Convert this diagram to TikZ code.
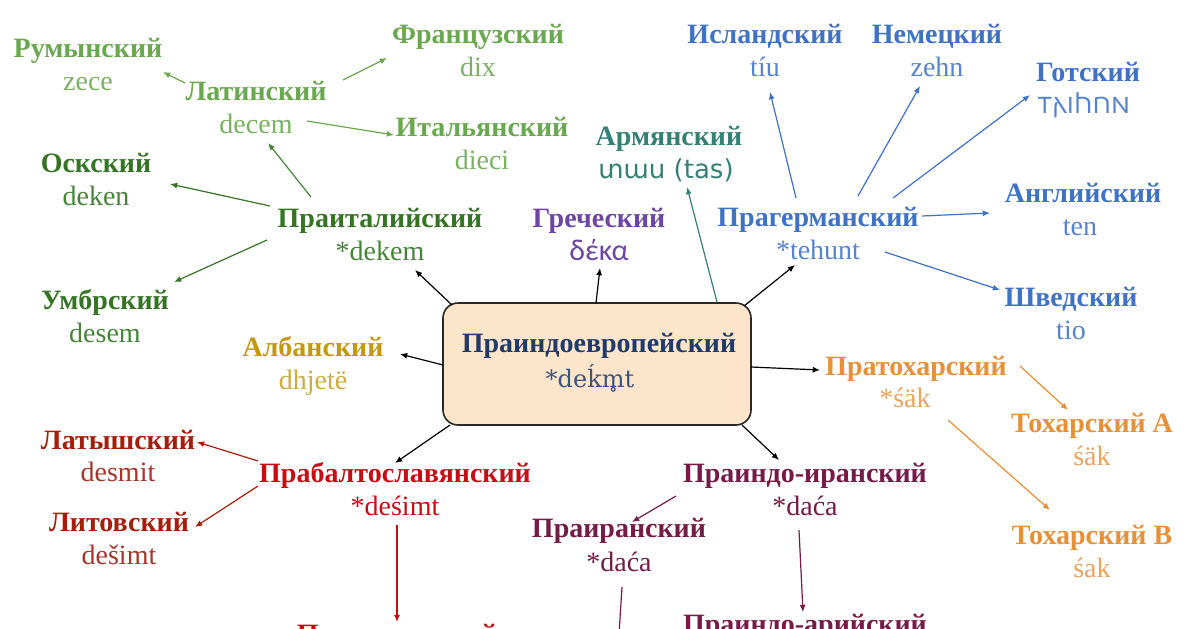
\documentclass[tikz,border=0pt]{standalone}
\usepackage{fontspec}
\setmainfont{Liberation Serif}
\newfontfamily\armfont{DejaVu Sans}
\newfontfamily\calfont{Carlito}
\newfontfamily\pieserif{DejaVu Serif}
\IfFontExistsTF{Noto Sans Gothic}{\newfontfamily\gothfont{Noto Sans Gothic}}{\newfontfamily\gothfont{DejaVu Sans}}
\usetikzlibrary{arrows.meta,calc}
\definecolor{romG}{RGB}{106,168,79}
\definecolor{romGw}{RGB}{122,178,98}
\definecolor{itaG}{RGB}{52,116,36}
\definecolor{itaGw}{RGB}{70,132,58}
\definecolor{gerB}{RGB}{64,114,196}
\definecolor{gerBw}{RGB}{86,132,204}
\definecolor{armT}{RGB}{52,128,116}
\definecolor{grkP}{RGB}{108,70,162}
\definecolor{pieB}{RGB}{32,58,106}
\definecolor{pieBw}{RGB}{62,82,122}
\definecolor{albY}{RGB}{196,152,12}
\definecolor{albYw}{RGB}{204,172,64}
\definecolor{bsR}{RGB}{200,12,20}
\definecolor{baltR}{RGB}{164,30,10}
\definecolor{baltRw}{RGB}{164,54,44}
\definecolor{iiM}{RGB}{116,27,71}
\definecolor{tocO}{RGB}{230,145,56}
\definecolor{tocOw}{RGB}{232,164,96}
\definecolor{boxfill}{RGB}{252,229,203}
\definecolor{boxline}{RGB}{40,40,40}
\tikzset{
  ttl/.style={anchor=base, inner sep=0pt, font=\fontsize{14}{17}\selectfont\bfseries},
  wrd/.style={anchor=base, inner sep=0pt, font=\fontsize{14}{17}\selectfont},
  arr/.style={-{Latex[length=3.6pt,width=3pt]}, line width=0.6pt},
  piebox/.style={draw=boxline, fill=boxfill, rounded corners=7.5pt, line width=0.8pt,
    minimum width=154pt, minimum height=61pt, inner sep=0pt},
}
\begin{document}
\begin{tikzpicture}[x=0.5pt,y=-0.5pt]
\clip (0,0) rectangle (1200,628);
\fill[white] (0,0) rectangle (1200,628);

% central box
\node[piebox] (pie) at (597,364) {};
\node[ttl, text=pieB] (piet) at (599,352) {Праиндоевропейский};
\node[anchor=base, inner sep=0pt, text=pieBw, font=\fontsize{12}{15}\pieserif] (piew) at (590,387) {*deḱm̥t};

% Italic branch
\node[ttl, text=romG] (rum) at (88,57) {Румынский};
\node[wrd, text=romGw] (rumw) at (88,90) {zece};
\node[ttl, text=romG] (lat) at (256,100) {Латинский};
\node[wrd, text=romGw] (latw) at (256,133) {decem};
\node[ttl, text=romG] (fr) at (478,43) {Французский};
\node[wrd, text=romGw] (frw) at (478,76) {dix};
\node[ttl, text=romG] (it) at (482,136) {Итальянский};
\node[wrd, text=romGw] (itw) at (482,169) {dieci};
\node[ttl, text=itaG] (osk) at (96,172) {Оскский};
\node[wrd, text=itaGw] (oskw) at (96,205) {deken};
\node[ttl, text=itaG] (prit) at (380,227) {Праиталийский};
\node[wrd, text=itaGw] (pritw) at (380,260) {*dekem};
\node[ttl, text=itaG] (umb) at (105,309) {Умбрский};
\node[wrd, text=itaGw] (umbw) at (105,342) {desem};

% Greek, Armenian
\node[ttl, text=grkP] (grk) at (599,227) {Греческий};
\node[anchor=base, inner sep=0pt, text=grkP, font=\fontsize{15}{17}\calfont] (grkw) at (599,260) {δέκα};
\node[ttl, text=armT] (arm) at (669,145) {Армянский};
\node[anchor=base, inner sep=0pt, text=armT, font=\fontsize{13}{17}\armfont] (armw) at (666,178) {տաս (tas)};

% Germanic
\node[ttl, text=gerB] (isl) at (765,43) {Исландский};
\node[wrd, text=gerBw] (islw) at (765,76) {tíu};
\node[ttl, text=gerB] (nem) at (937,43) {Немецкий};
\node[wrd, text=gerBw] (nemw) at (937,76) {zehn};
\node[ttl, text=gerB] (got) at (1088,81) {Готский};
\node[anchor=base, inner sep=0pt, text=gerBw, font=\fontsize{12.5}{17}\gothfont] (gotw) at (1084,113) {𐍄𐌰𐌹𐌷𐌿𐌽};
\node[ttl, text=gerB] (pg) at (818,226) {Прагерманский};
\node[wrd, text=gerBw] (pgw) at (818,259) {*tehunt};
\node[ttl, text=gerB] (eng) at (1083,202) {Английский};
\node[wrd, text=gerBw] (engw) at (1080,235) {ten};
\node[ttl, text=gerB] (swe) at (1071,306) {Шведский};
\node[wrd, text=gerBw] (swew) at (1071,339) {tio};

% Albanian
\node[ttl, text=albY] (alb) at (313,356) {Албанский};
\node[wrd, text=albYw] (albw) at (313,389) {dhjetë};

% Tocharian
\node[ttl, text=tocO] (ptc) at (916,375) {Пратохарский};
\node[wrd, text=tocOw] (ptcw) at (905,407) {*śäk};
\node[ttl, text=tocO] (tca) at (1092,432) {Тохарский А};
\node[wrd, text=tocOw] (tcaw) at (1092,465) {śäk};
\node[ttl, text=tocO] (tcb) at (1092,544) {Тохарский В};
\node[wrd, text=tocOw] (tcbw) at (1092,577) {śak};

% Balto-Slavic
\node[ttl, text=bsR] (pbs) at (395,482) {Прабалтославянский};
\node[wrd, text=bsR] (pbsw) at (395,515) {*deśimt};
\node[ttl, text=baltR] (lv) at (118,449) {Латышский};
\node[wrd, text=baltRw] (lvw) at (118,481) {desmit};
\node[ttl, text=baltR] (lt) at (119,531) {Литовский};
\node[wrd, text=baltRw] (ltw) at (119,564) {dešimt};
\node[ttl, text=bsR] (psl) at (397,643) {Праславянский};

% Indo-Iranian
\node[ttl, text=iiM] (pii) at (805,482) {Праиндо-иранский};
\node[wrd, text=iiM] (piiw) at (805,515) {*daća};
\node[ttl, text=iiM] (pir) at (619,537) {Праиранский};
\node[wrd, text=iiM] (pirw) at (619,571) {*daća};
\node[ttl, text=iiM] (pia) at (805,633) {Праиндо-арийский};
\coordinate (pirdown) at (618,650);

% arrows: Latin
\draw[arr, romG] ($(lat.base)+(-71,-17)$) -- ($(rum.base)+(75,15)$);
\draw[arr, romG] ($(lat.base)+(87,-20)$) -- ($(fr.base)+(-91,15)$);
\draw[arr, romG] ($(latw.base)+(51,-12)$) -- ($(it.base)+(-88,-1)$);
% Proto-Italic
\draw[arr, itaGw] ($(prit.base)+(-69,-30)$) -- ($(latw.base)+(12,10)$);
\draw[arr, itaG] ($(prit.base)+(-110,-21)$) -- ($(osk.base)+(74,12)$);
\draw[arr, itaG] ($(prit.base)+(-113,13)$) -- ($(umb.base)+(69,-27)$);
% from PIE
\draw[arr, black] ($(pie.center)+(-145,-59)$) -- ($(pritw.base)+(35,10)$);
\draw[arr, black] ($(pie.center)+(-1,-61)$) -- ($(grkw.base)+(1,8)$);
\draw[arr, armT] ($(pie.center)+(120,-62)$) -- ($(armw.base)+(21,9)$);
\draw[arr, black] ($(pie.center)+(147,-58)$) -- ($(pgw.base)+(-23,6)$);
\draw[arr, black] ($(pie.center)+(-154,1)$) -- ($(alb.base)+(87,-2)$);
\draw[arr, black] ($(pie.center)+(154,3)$) -- ($(ptc.base)+(-96,-5)$);
\draw[arr, black] ($(pie.center)+(-147,61)$) -- ($(pbs.base)+(0,-19)$);
\draw[arr, black] ($(pie.center)+(145,61)$) -- ($(pii.base)+(-26,-22)$);
% Germanic
\draw[arr, gerB] ($(pg.base)+(-22,-28)$) -- ($(islw.base)+(5,16)$);
\draw[arr, gerB] ($(pg.base)+(40,-30)$) -- ($(nemw.base)+(-17,10)$);
\draw[arr, gerB] ($(pg.base)+(75,-28)$) -- ($(got.base)+(-58,14)$);
\draw[arr, gerB] ($(pg.base)+(104,-10)$) -- ($(eng.base)+(-93,11)$);
\draw[arr, gerB] ($(pgw.base)+(67,-7)$) -- ($(swe.base)+(-71,-16)$);
% Tocharian
\draw[arr, tocO] ($(ptc.base)+(104,-9)$) -- ($(tca.base)+(-24,-22)$);
\draw[arr, tocO] ($(ptcw.base)+(43,13)$) -- ($(tcb.base)+(-42,-34)$);
% Balto-Slavic
\draw[arr, baltR] ($(pbs.base)+(-137,-21)$) -- ($(lv.base)+(79,-7)$);
\draw[arr, baltR] ($(pbs.base)+(-137,4)$) -- ($(lt.base)+(76,-4)$);
\draw[arr, bsR] ($(pbsw.base)+(2,10)$) -- ($(psl.base)+(0,-21)$);
% Indo-Iranian
\draw[arr, iiM] ($(pii.base)+(-129,14)$) -- ($(pir.base)+(13,-15)$);
\draw[arr, iiM] ($(piiw.base)+(-6,15)$) -- ($(pia.base)+(-2,-21)$);
\draw[line width=0.6pt, iiM] ($(pirw.base)+(3,16)$) -- (pirdown);
\end{tikzpicture}
\end{document}
